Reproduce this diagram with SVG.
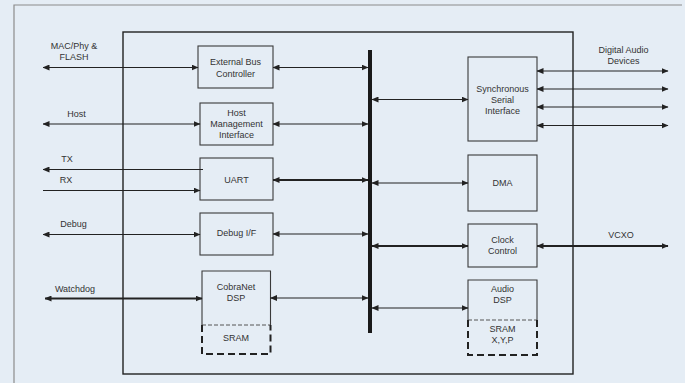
<svg xmlns="http://www.w3.org/2000/svg" width="685" height="383" viewBox="0 0 685 383">
<defs>
<marker id="ah" markerUnits="userSpaceOnUse" markerWidth="7" markerHeight="6" refX="6.5" refY="3" orient="auto-start-reverse">
<path d="M0,0 L7,3 L0,6 z" fill="#222"/>
</marker>
<style>
.t{font-family:"Liberation Sans",Arial,sans-serif;font-size:9px;fill:#333;text-anchor:middle}
.box{fill:none;stroke:#3a3a3a;stroke-width:1.1}
.c{fill:none;stroke:#222;stroke-width:1.2}
.k{fill:none;stroke:#222;stroke-width:2}
.b2{marker-start:url(#ah);marker-end:url(#ah)}
.e{marker-end:url(#ah)}
.s{marker-start:url(#ah)}
.dash{fill:none;stroke:#222;stroke-width:2;stroke-dasharray:7,4}
.sep{fill:none;stroke:#555;stroke-width:1;stroke-dasharray:4,2}
</style>
</defs>
<rect x="0" y="0" width="685" height="383" fill="#e5edf5"/>
<path d="M14,383 V5 H682" fill="none" stroke="#8c8c8c" stroke-width="1.2"/>
<g id="chip"><rect x="123" y="32" width="450" height="342" fill="none" stroke="#222" stroke-width="1.4"/></g>
<g id="bus"><line x1="370" y1="50" x2="370" y2="333" stroke="#1a1a1a" stroke-width="4"/></g>

<g id="ebc"><rect class="box" x="198" y="46" width="75" height="42"/>
<text class="t" x="235.5" y="65">External Bus</text><text class="t" x="235.5" y="76.5">Controller</text></g>
<g id="hmi"><rect class="box" x="200" y="103" width="73" height="42"/>
<text class="t" x="236.5" y="115.5">Host</text><text class="t" x="236.5" y="127.3">Management</text><text class="t" x="236.5" y="138.3">Interface</text></g>
<g id="uart"><rect class="box" x="200" y="158" width="73" height="42"/>
<text class="t" x="236.5" y="182.5">UART</text></g>
<g id="debugif"><rect class="box" x="200" y="213" width="73" height="42"/>
<text class="t" x="236.5" y="236">Debug I/F</text></g>
<g id="cobranet"><path class="box" d="M202,325 V271 H270.5 V325"/>
<line class="sep" x1="202" y1="325" x2="270.5" y2="325"/>
<path class="dash" d="M202,325 V354 H270.5 V325"/>
<text class="t" x="236" y="290">CobraNet</text><text class="t" x="236" y="301">DSP</text>
<text class="t" x="236" y="341">SRAM</text></g>

<g id="ssi"><rect class="box" x="468" y="57" width="69" height="84"/>
<text class="t" x="502.5" y="91.5">Synchronous</text><text class="t" x="502.5" y="102.5">Serial</text><text class="t" x="502.5" y="113.5">Interface</text></g>
<g id="dma"><rect class="box" x="468" y="155" width="69" height="56"/>
<text class="t" x="502.5" y="186">DMA</text></g>
<g id="clock"><rect class="box" x="468" y="224" width="69" height="43"/>
<text class="t" x="502.5" y="243">Clock</text><text class="t" x="502.5" y="254.3">Control</text></g>
<g id="audiodsp"><path class="box" d="M468,320 V280 H537 V320"/>
<line class="sep" x1="468" y1="320" x2="537" y2="320"/>
<path class="dash" d="M468,320 V355 H537 V320"/>
<text class="t" x="502.5" y="291.5">Audio</text><text class="t" x="502.5" y="302.5">DSP</text>
<text class="t" x="502.5" y="332">SRAM</text><text class="t" x="502.5" y="343">X,Y,P</text></g>

<g id="labels">
<text class="t" x="74" y="49">MAC/Phy &amp;</text><text class="t" x="74" y="60">FLASH</text>
<text class="t" x="76.5" y="116.5">Host</text>
<text class="t" x="67" y="162">TX</text>
<text class="t" x="66" y="183">RX</text>
<text class="t" x="73.5" y="227">Debug</text>
<text class="t" x="75" y="291.5">Watchdog</text>
<text class="t" x="623.5" y="52.5">Digital Audio</text><text class="t" x="623.5" y="64">Devices</text>
<text class="t" x="621" y="238">VCXO</text>
</g>

<g id="connectors">
<line class="c b2" x1="43" y1="67.5" x2="198" y2="67.5"/>
<line class="c b2" x1="43" y1="124" x2="200" y2="124"/>
<line class="c s" x1="43" y1="169.5" x2="203" y2="169.5"/>
<line class="c e" x1="43" y1="190.5" x2="200" y2="190.5"/>
<line class="c b2" x1="43" y1="234.5" x2="200" y2="234.5"/>
<line class="k b2" x1="45" y1="298.5" x2="202" y2="298.5"/>

<line class="c b2" x1="273" y1="67.5" x2="368" y2="67.5"/>
<line class="c b2" x1="273" y1="124" x2="368" y2="124"/>
<line class="k b2" x1="273" y1="180" x2="368" y2="180"/>
<line class="c b2" x1="273" y1="234" x2="368" y2="234"/>
<line class="c b2" x1="270.5" y1="298" x2="368" y2="298"/>

<line class="c b2" x1="372" y1="99.5" x2="468" y2="99.5"/>
<line class="c b2" x1="372" y1="183" x2="468" y2="183"/>
<line class="k b2" x1="372" y1="246" x2="468" y2="246"/>
<line class="c b2" x1="372" y1="308" x2="468" y2="308"/>

<line class="c b2" x1="537" y1="71" x2="668" y2="71"/>
<line class="c b2" x1="537" y1="89" x2="668" y2="89"/>
<line class="c b2" x1="537" y1="107" x2="668" y2="107"/>
<line class="c b2" x1="537" y1="125.5" x2="668" y2="125.5"/>
<line class="k b2" x1="537" y1="246" x2="668" y2="246"/>
</g>
</svg>
